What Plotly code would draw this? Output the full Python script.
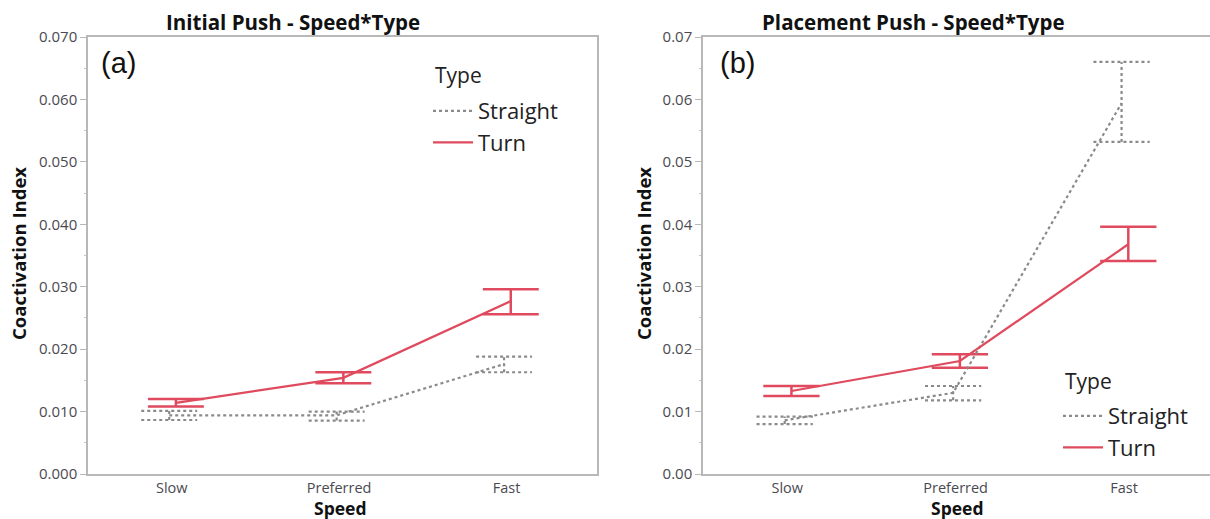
import plotly.graph_objects as go

W, H = 1210, 519

speeds = ["Slow", "Preferred", "Fast"]

# (a) Initial Push
straight_mean_a = [0.0094, 0.0094, 0.0176]
straight_lo_a = [0.00865, 0.00855, 0.0163]
straight_hi_a = [0.0101, 0.0100, 0.0188]
turn_mean_a = [0.0114, 0.0154, 0.0277]
turn_lo_a = [0.0108, 0.01455, 0.0256]
turn_hi_a = [0.0120, 0.0163, 0.0296]

# (b) Placement Push
straight_mean_b = [0.0086, 0.0130, 0.0594]
straight_lo_b = [0.0080, 0.0118, 0.0532]
straight_hi_b = [0.0092, 0.0141, 0.0660]
turn_mean_b = [0.0133, 0.0181, 0.0368]
turn_lo_b = [0.0125, 0.0170, 0.0341]
turn_hi_b = [0.0141, 0.0192, 0.0396]

y_ticks_a = [0.0, 0.01, 0.02, 0.03, 0.04, 0.05, 0.06, 0.07]
y_ticks_b = [0.0, 0.01, 0.02, 0.03, 0.04, 0.05, 0.06, 0.07]

RED = "#DF4A5E"
GRAY = "#8a8a8a"
FONT = "Open Sans"
CAP = 0.167
OFF_S = -0.015
OFF_T = 0.025


def px_x(p):
    return p / W


def px_y(p):
    return (H - p) / H


def err_path(means, lo, hi, off):
    xs, ys = [], []
    for i, (l, h) in enumerate(zip(lo, hi)):
        xc = i + off
        xs += [xc, xc, None, xc - CAP, xc + CAP, None, xc - CAP, xc + CAP, None]
        ys += [l, h, None, l, l, None, h, h, None]
    return xs, ys


fig = go.Figure()


def add_panel(xa, ya, leg, s_mean, s_lo, s_hi, t_mean, t_lo, t_hi):
    xs, ys = err_path(s_mean, s_lo, s_hi, OFF_S)
    fig.add_trace(go.Scatter(x=xs, y=ys, mode="lines", xaxis=xa, yaxis=ya,
                             line=dict(color=GRAY, width=2.2, dash="3px,3px"),
                             showlegend=False, hoverinfo="skip"))
    xt, yt = err_path(t_mean, t_lo, t_hi, OFF_T)
    fig.add_trace(go.Scatter(x=xt, y=yt, mode="lines", xaxis=xa, yaxis=ya,
                             line=dict(color=RED, width=2.5),
                             showlegend=False, hoverinfo="skip"))
    fig.add_trace(go.Scatter(x=[i + OFF_S for i in range(3)], y=s_mean, mode="lines",
                             name="Straight", xaxis=xa, yaxis=ya, legend=leg,
                             line=dict(color=GRAY, width=2.2, dash="3px,3px")))
    fig.add_trace(go.Scatter(x=[i + OFF_T for i in range(3)], y=t_mean, mode="lines",
                             name="Turn", xaxis=xa, yaxis=ya, legend=leg,
                             line=dict(color=RED, width=2.2)))


add_panel("x", "y", "legend", straight_mean_a, straight_lo_a, straight_hi_a,
          turn_mean_a, turn_lo_a, turn_hi_a)
add_panel("x2", "y2", "legend2", straight_mean_b, straight_lo_b, straight_hi_b,
          turn_mean_b, turn_lo_b, turn_hi_b)

ydom = [px_y(474), px_y(37)]

xcommon = dict(tickmode="array", tickvals=[0, 1, 2], ticktext=speeds,
               showline=True, linecolor="#b8b8b8", linewidth=1.5, mirror=True,
               ticks="", showgrid=False, zeroline=False,
               tickfont=dict(family=FONT, size=14.5, color="#4a4a50"))
ycommon = dict(range=[0, 0.07], showline=True, linecolor="#b8b8b8", linewidth=1.5,
               ticks="outside", ticklen=6, tickcolor="#b8b8b8",
               showgrid=False, zeroline=False,
               minor=dict(ticks="outside", ticklen=2, dtick=0.005, tickcolor="#c8c8c8"),
               tickfont=dict(family=FONT, size=15, color="#4a4a50"), domain=ydom)

legend_common = dict(font=dict(family=FONT, size=22, color="#222"),
                     bgcolor="rgba(0,0,0,0)", xanchor="left", yanchor="top",
                     itemwidth=40, tracegroupgap=0)

fig.update_layout(
    width=W, height=H,
    margin=dict(l=0, r=0, t=0, b=0, autoexpand=False),
    paper_bgcolor="white", plot_bgcolor="white",
    xaxis=dict(domain=[px_x(88), px_x(597)], range=[-0.5, 2.54], anchor="y", **xcommon),
    yaxis=dict(anchor="x", tickvals=y_ticks_a, tickformat=".3f", mirror=True, **ycommon),
    xaxis2=dict(domain=[px_x(703), 1.0], range=[-0.5, 2.51], anchor="y2", **xcommon),
    yaxis2=dict(anchor="x2", tickvals=y_ticks_b, tickformat=".2f", mirror=False, **ycommon),
    legend=dict(x=px_x(428), y=px_y(90), **legend_common),
    legend2=dict(x=px_x(1058), y=px_y(395), **legend_common),
)

ann = []
ann.append(dict(text="<b>Initial Push - Speed*Type</b>", x=px_x(293), y=px_y(22),
                xref="paper", yref="paper", showarrow=False, xanchor="center", yanchor="middle",
                font=dict(family=FONT, size=20.5, color="#111")))
ann.append(dict(text="<b>Placement Push - Speed*Type</b>", x=px_x(914), y=px_y(22),
                xref="paper", yref="paper", showarrow=False, xanchor="center", yanchor="middle",
                font=dict(family=FONT, size=20.5, color="#111")))
for cx in (18, 643):
    ann.append(dict(text="<b>Coactivation Index</b>", x=px_x(cx), y=px_y(254),
                    xref="paper", yref="paper", showarrow=False, textangle=-90,
                    xanchor="center", yanchor="middle",
                    font=dict(family=FONT, size=18.5, color="#111")))
for cx in (340, 957):
    ann.append(dict(text="<b>Speed</b>", x=px_x(cx), y=px_y(522),
                    xref="paper", yref="paper", showarrow=False,
                    xanchor="center", yanchor="bottom",
                    font=dict(family=FONT, size=17.5, color="#111")))
for txt, cx in (("(a)", 118), ("(b)", 737)):
    ann.append(dict(text=txt, x=px_x(cx), y=px_y(63),
                    xref="paper", yref="paper", showarrow=False,
                    xanchor="center", yanchor="middle",
                    font=dict(family="Liberation Sans", size=29, color="#111")))
for lx, ly in ((433, 75), (1063, 381)):
    ann.append(dict(text="Type", x=px_x(lx), y=px_y(ly),
                    xref="paper", yref="paper", showarrow=False,
                    xanchor="left", yanchor="middle",
                    font=dict(family=FONT, size=21, color="#222")))
fig.update_layout(annotations=ann)

fig.write_html("out.html", config={"displayModeBar": False})
